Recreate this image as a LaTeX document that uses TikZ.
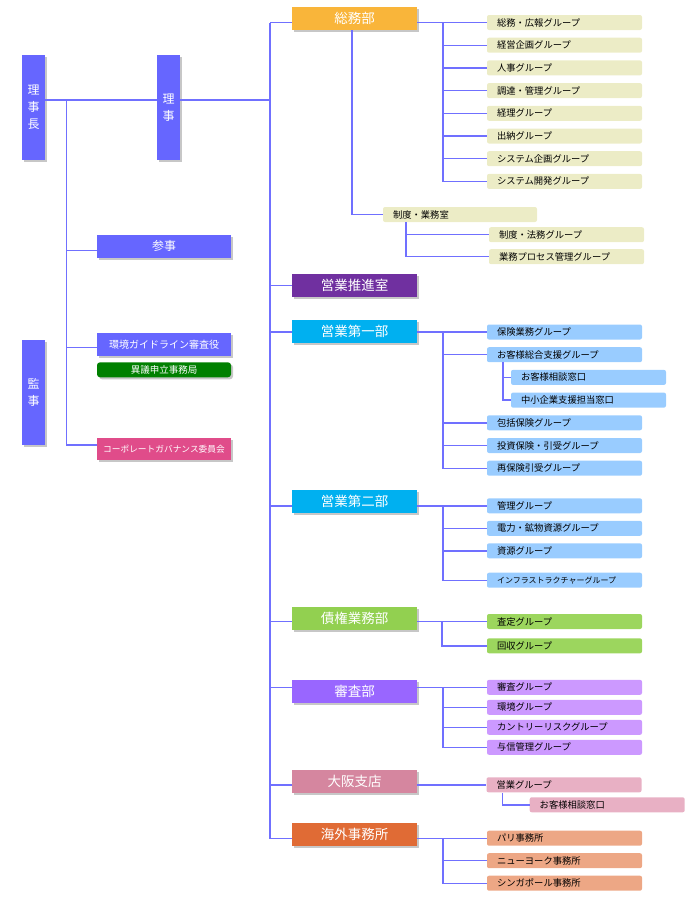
\documentclass[tikz,border=0pt]{standalone}
\usepackage{fontspec}
\setmainfont{Noto Sans CJK JP}
\usepackage{tikz}
\usetikzlibrary{positioning,shadows}
\definecolor{topblue}{RGB}{102,102,255}
\definecolor{linkblue}{RGB}{112,112,255}
\definecolor{somuorange}{RGB}{249,181,58}
\definecolor{somugrp}{RGB}{236,236,198}
\definecolor{suishinpurple}{RGB}{112,48,160}
\definecolor{eigyocyan}{RGB}{0,176,240}
\definecolor{eigyogrp}{RGB}{153,204,255}
\definecolor{saikengreen}{RGB}{146,208,80}
\definecolor{saikengrp}{RGB}{156,214,94}
\definecolor{shinsapurple}{RGB}{153,102,255}
\definecolor{shinsagrp}{RGB}{204,153,255}
\definecolor{osakapink}{RGB}{213,134,159}
\definecolor{osakagrp}{RGB}{232,176,196}
\definecolor{kaigaiorange}{RGB}{224,107,53}
\definecolor{kaigaigrp}{RGB}{237,167,133}
\definecolor{igigreen}{RGB}{0,128,0}
\definecolor{kgpink}{RGB}{224,76,138}

\begin{document}
\begin{tikzpicture}[
    x=1pt, y=-1pt,
    node distance=22.7pt,
    font=\fontsize{9}{11}\selectfont,
    conn/.style={
		draw=linkblue,
		line width=1.4pt
	},
    chief/.style={
		rectangle,
		fill=topblue,
		text=white,
		align=center,
		inner sep=0pt,
		minimum width=23pt,
		minimum height=105pt,
		font=\fontsize{12}{17}\selectfont,
		drop shadow={shadow xshift=2pt, shadow yshift=-2pt, opacity=0.22, fill=black}
	},
    staff/.style={
		rectangle,
		fill=topblue,
		text=white,
		inner sep=0pt,
		minimum width=134pt,
		minimum height=22.5pt,
		font=\fontsize{12}{14}\selectfont,
		drop shadow={shadow xshift=2pt, shadow yshift=-2pt, opacity=0.22, fill=black}
	},
    dept/.style={
		rectangle,
		text=white,
		inner sep=0pt,
		minimum width=125pt,
		minimum height=23pt,
		font=\fontsize{13.5}{15}\selectfont,
		drop shadow={shadow xshift=2pt, shadow yshift=-2pt, opacity=0.22, fill=black}
	},
    grp/.style={
		rectangle,
		rounded corners=2pt,
		text=black,
		align=left,
		text width=135pt,
		inner xsep=10pt,
		inner ysep=0pt,
		minimum height=15pt,
		font=\fontsize{9.3}{11}\selectfont
	}
  ]

\useasboundingbox (0,0) rectangle (700,900);

% // Board
\node [chief] (rijicho) at (33.5,107.5) {理\\事\\長};
\node [chief] (riji) at (168.5,107.5) {理\\事};
\node [chief] (kanji) at (33.5,392) {監\\事};

\node [staff] (sanji) at (164,246.3) {参事};
\node [staff, font=\fontsize{10}{12}\selectfont] (kankyo) at (164,344.3) {環境ガイドライン審査役};
\node [staff, fill=igigreen, rounded corners=3pt, minimum height=15pt, font=\fontsize{9.5}{11}\selectfont] (igi) at (164,369.8) {異議申立事務局};
\node [staff, fill=kgpink, font=\fontsize{8.7}{11}\selectfont] (kg) at (164,449) {コーポレートガバナンス委員会};

\coordinate (trunk) at (66.5,100);
\draw [conn] ([yshift=7.5pt]rijicho.east) -- ([yshift=7.5pt]riji.west);
\draw [conn] ([yshift=4pt]kg.west) -| (trunk);
\draw [conn] ([yshift=-4.4pt]sanji.west) -| (trunk);
\draw [conn] ([yshift=-3.4pt]kankyo.west) -| (trunk);

% // Departments
\node [dept, fill=somuorange] (somu) at (354.5,18.5) {総務部};
\node [dept, fill=suishinpurple] (suishin) at (354.5,285.5) {営業推進室};
\node [dept, fill=eigyocyan] (eigyo1) at (354.5,331.5) {営業第一部};
\node [dept, fill=eigyocyan] (eigyo2) at (354.5,501.5) {営業第二部};
\node [dept, fill=saikengreen] (saiken) at (354.5,618.5) {債権業務部};
\node [dept, fill=shinsapurple] (shinsa) at (354.5,691.5) {審査部};
\node [dept, fill=osakapink] (osaka) at (354.5,781.5) {大阪支店};
\node [dept, fill=kaigaiorange] (kaigai) at (354.5,834) {海外事務所};

% somu groups
\node [grp, fill=somugrp] (grp11) at (564.5,22.5) {総務・広報グループ};
\node [grp, fill=somugrp, below of=grp11] (grp12) {経営企画グループ};
\node [grp, fill=somugrp, below of=grp12] (grp13) {人事グループ};
\node [grp, fill=somugrp, below of=grp13] (grp14) {調達・管理グループ};
\node [grp, fill=somugrp, below of=grp14] (grp15) {経理グループ};
\node [grp, fill=somugrp, below of=grp15] (grp16) {出納グループ};
\node [grp, fill=somugrp, below of=grp16] (grp17) {システム企画グループ};
\node [grp, fill=somugrp, below of=grp17] (grp18) {システム開発グループ};

\node [grp, fill=somugrp, text width=134pt] (seido) at (460,214.5) {制度・業務室};
\node [grp, fill=somugrp] (seido1) at (566.5,234.7) {制度・法務グループ};
\node [grp, fill=somugrp, node distance=22pt, below of=seido1] (seido2) {業務プロセス管理グループ};

% eigyo1 groups
\node [grp, fill=eigyogrp] (grp21) at (564.5,332) {保険業務グループ};
\node [grp, fill=eigyogrp, below of=grp21] (grp22) {お客様総合支援グループ};
\node [grp, fill=eigyogrp] (grp23) at (588.5,377.4) {お客様相談窓口};
\node [grp, fill=eigyogrp, below of=grp23] (grp24) {中小企業支援担当窓口};
\node [grp, fill=eigyogrp] (grp25) at (564.5,422.8) {包括保険グループ};
\node [grp, fill=eigyogrp, below of=grp25] (grp26) {投資保険・引受グループ};
\node [grp, fill=eigyogrp, below of=grp26] (grp27) {再保険引受グループ};

% eigyo2 groups
\node [grp, fill=eigyogrp] (grp31) at (564.5,505.8) {管理グループ};
\node [grp, fill=eigyogrp, node distance=22.5pt, below of=grp31] (grp32) {電力・鉱物資源グループ};
\node [grp, fill=eigyogrp, node distance=22.5pt, below of=grp32] (grp33) {資源グループ};
\node [grp, fill=eigyogrp, font=\fontsize{8}{10}\selectfont] (grp34) at (564.5,580.2) {インフラストラクチャーグループ};

% saiken groups
\node [grp, fill=saikengrp] (grp41) at (564.5,621.5) {査定グループ};
\node [grp, fill=saikengrp, node distance=24.3pt, below of=grp41] (grp42) {回収グループ};

% shinsa groups
\node [grp, fill=shinsagrp] (grp51) at (564.5,687.3) {審査グループ};
\node [grp, fill=shinsagrp, node distance=20pt, below of=grp51] (grp52) {環境グループ};
\node [grp, fill=shinsagrp, node distance=20pt, below of=grp52] (grp53) {カントリーリスクグループ};
\node [grp, fill=shinsagrp, node distance=20pt, below of=grp53] (grp54) {与信管理グループ};

% osaka groups
\node [grp, fill=osakagrp] (grp61) at (564,784.8) {営業グループ};
\node [grp, fill=osakagrp] (grp62) at (607.2,804.8) {お客様相談窓口};

% kaigai groups
\node [grp, fill=kaigaigrp] (grp71) at (564.5,838.2) {パリ事務所};
\node [grp, fill=kaigaigrp, node distance=22.5pt, below of=grp71] (grp72) {ニューヨーク事務所};
\node [grp, fill=kaigaigrp, node distance=22.5pt, below of=grp72] (grp73) {シンガポール事務所};

% // The spine
\coordinate (spine) at (270,22.5);
\draw [conn] ([yshift=7.5pt]riji.east) -| (spine);
\draw [conn] (somu.west |- grp11.west) -- (spine);
\draw [conn] (suishin.west) -| (spine);
\draw [conn] (eigyo1.west |- grp21.west) -| (spine);
\draw [conn] (eigyo2.west |- grp31.west) -| (spine);
\draw [conn] (saiken.west |- grp41.west) -| (spine);
\draw [conn] (shinsa.west |- grp51.west) -| (spine);
\draw [conn] (osaka.west |- grp61.west) -| (spine);
\draw [conn] (kaigai.west |- grp71.west) -| (spine);

% somu bars
\coordinate (bar1) at ([xshift=-44pt]grp11.west);
\draw [conn] (somu.east |- grp11.west) -- (grp11.west);
\draw [conn] (grp12.west) -| (bar1);
\draw [conn] (grp13.west) -| (bar1);
\draw [conn] (grp14.west) -| (bar1);
\draw [conn] (grp15.west) -| (bar1);
\draw [conn] (grp16.west) -| (bar1);
\draw [conn] (grp17.west) -| (bar1);
\draw [conn] (grp18.west) -| (bar1);
\draw [conn] ([xshift=-2.5pt]somu.south) |- (seido.west);
\coordinate (bar1s) at ([xshift=23pt]seido.south west);
\draw [conn] (seido1.west) -| (bar1s);
\draw [conn] (seido2.west) -| (bar1s);

% eigyo1 bars
\coordinate (bar2) at ([xshift=-44pt]grp21.west);
\draw [conn] (eigyo1.east |- grp21.west) -- (grp21.west);
\draw [conn] (grp22.west) -| (bar2);
\draw [conn] (grp25.west) -| (bar2);
\draw [conn] (grp26.west) -| (bar2);
\draw [conn] (grp27.west) -| (bar2);
\coordinate (bar2s) at ([xshift=16pt]grp22.south west);
\draw [conn] (grp23.west) -| (bar2s);
\draw [conn] (grp24.west) -| (bar2s);

% eigyo2 bars
\coordinate (bar3) at ([xshift=-44pt]grp31.west);
\draw [conn] (eigyo2.east |- grp31.west) -- (grp31.west);
\draw [conn] (grp32.west) -| (bar3);
\draw [conn] (grp33.west) -| (bar3);
\draw [conn] (grp34.west) -| (bar3);

% saiken bars
\coordinate (bar4) at ([xshift=-45pt]grp41.west);
\draw [conn] (saiken.east |- grp41.west) -- (grp41.west);
\draw [conn] (grp42.west) -| (bar4);

% shinsa bars
\coordinate (bar5) at ([xshift=-44pt]grp51.west);
\draw [conn] (shinsa.east |- grp51.west) -- (grp51.west);
\draw [conn] (grp52.west) -| (bar5);
\draw [conn] (grp53.west) -| (bar5);
\draw [conn] (grp54.west) -| (bar5);

% osaka bars
\draw [conn] (osaka.east |- grp61.west) -- (grp61.west);
\coordinate (bar6s) at ([xshift=16pt]grp61.south west);
\draw [conn] (grp62.west) -| (bar6s);

% kaigai bars
\coordinate (bar7) at ([xshift=-44pt]grp71.west);
\draw [conn] (kaigai.east |- grp71.west) -- (grp71.west);
\draw [conn] (grp72.west) -| (bar7);
\draw [conn] (grp73.west) -| (bar7);

\end{tikzpicture}
\end{document}
